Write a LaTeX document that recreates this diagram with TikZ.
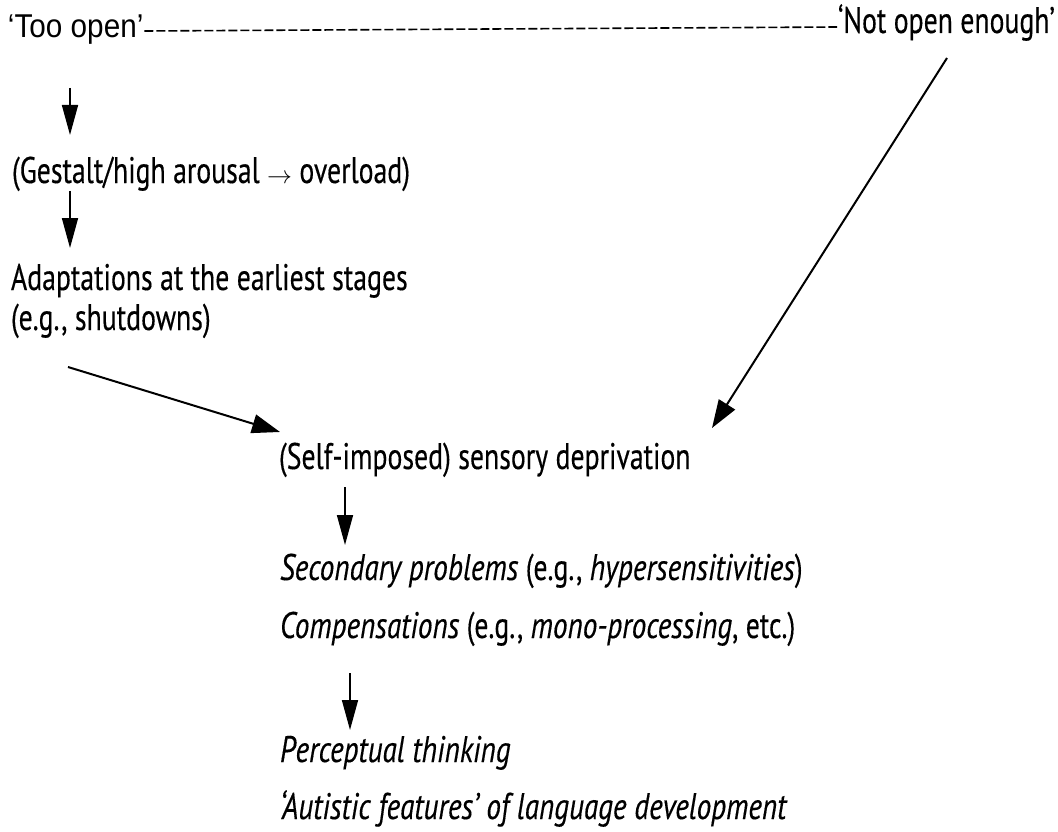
\documentclass[tikz,border=0pt]{standalone}
\usepackage{fontspec}
\setmainfont{PT Sans}[FakeStretch=0.75,FakeBold=0.3,ItalicFeatures={FakeStretch=0.79}]
\newfontfamily\arialfont{Liberation Sans}[FakeStretch=0.9]
\usetikzlibrary{arrows.meta,calc}
\begin{document}
\begin{tikzpicture}[x=1pt,y=-1pt,
  txt/.style={anchor=base west,inner sep=0pt,outer sep=0pt,font=\fontsize{37}{44}\selectfont},
  varr/.style={line width=1.7pt,-{Triangle[length=30pt,width=16pt]}},
  darr/.style={line width=2pt,-{Triangle[length=28pt,width=19pt]}},
  dashline/.style={line width=1.6pt,dash pattern=on 9pt off 3pt}]
\useasboundingbox[fill=white] (0,0) rectangle (1058,832);
\node[anchor=base west,inner sep=0pt,outer sep=0pt,font=\arialfont\fontsize{33}{38}\selectfont] (too) at (8,38) {‘Too open’};
\node[txt] (notopen) at (838,33) {‘Not open enough’};
\node[txt] (gestalt) at (12,183) {(Gestalt/high arousal $\rightarrow$ overload)};
\node[txt] (adapt1) at (11,290) {Adaptations at the earliest stages};
\node[txt] (adapt2) at (11,330) {(e.g., shutdowns)};
\node[txt] (self) at (279,469) {(Self-imposed) sensory deprivation};
\node[txt] (sec) at (280,580) {\textit{Secondary problems} (e.g., \textit{hypersensitivities})};
\node[txt] (comp) at (280,638) {\textit{Compensations} (e.g., \textit{mono-processing}, etc.)};
\node[txt] (perc) at (280,762) {\textit{Perceptual thinking}};
\node[txt] (aut) at (280,819) {\textit{‘Autistic features’ of language development}};
% dashed connector
\draw[dashline] ($(too.base east)+(1,-7)$) -- ($(notopen.base west)+(-1,-6)$);
% arrows
\draw[varr] ($(too.base west)+(62,50)$) -- ($(gestalt.base west)+(58,-48)$);
\draw[varr] ($(gestalt.base west)+(58,8)$) -- ($(adapt1.base west)+(59,-42)$);
\draw[darr] ($(adapt2.base west)+(57,37)$) -- ($(self.base west)+(1,-37)$);
\draw[darr] ($(notopen.base west)+(109,25)$) -- ($(self.base west)+(433,-41)$);
\draw[varr] ($(self.base west)+(66,18)$) -- ($(sec.base west)+(65,-35)$);
\draw[varr] ($(comp.base west)+(70,35)$) -- ($(perc.base west)+(70,-32)$);
\end{tikzpicture}
\end{document}
